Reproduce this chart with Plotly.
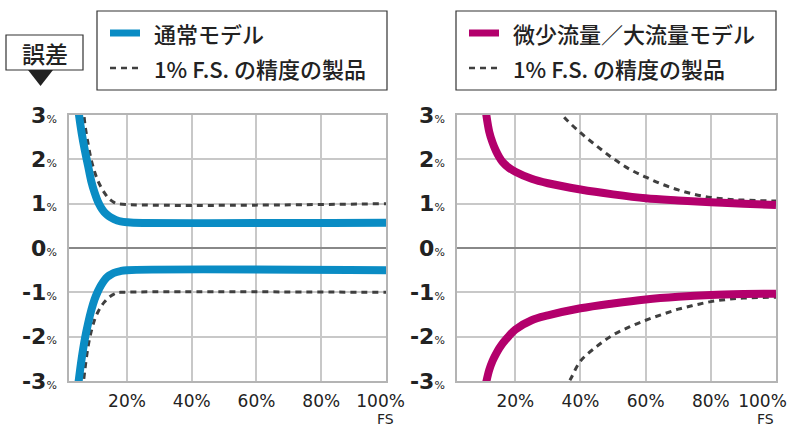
import plotly.graph_objects as go

W, H = 788, 427

# ---------------- data ----------------
# Left panel: 通常モデル
std_up_x = [5.0, 6, 7, 8, 9, 10, 11, 12, 13, 14, 15, 16, 17, 18, 20, 22, 100]
std_up_y = [3.1, 2.6, 2.2, 1.85, 1.5, 1.25, 1.05, 0.91, 0.81, 0.74, 0.69, 0.65, 0.62, 0.6, 0.58, 0.57, 0.57]
std_lo_x = [5.0, 6, 7, 8, 9, 10, 11, 12, 13, 14, 15, 16, 18, 20, 100]
std_lo_y = [-3.05, -2.5, -2.05, -1.7, -1.4, -1.16, -0.98, -0.84, -0.73, -0.65, -0.6, -0.56, -0.52, -0.5, -0.5]
fs_l_up_x = [6.5, 7, 8, 9, 10, 11, 12, 13, 14, 15, 16, 17, 100]
fs_l_up_y = [3.2, 2.8, 2.35, 1.98, 1.72, 1.52, 1.37, 1.25, 1.15, 1.08, 1.03, 1.0, 1.0]
fs_l_lo_x = [6.3, 7, 8, 9, 10, 11, 12, 13, 14, 15, 16, 17, 18, 100]
fs_l_lo_y = [-3.2, -2.75, -2.22, -1.87, -1.62, -1.45, -1.32, -1.22, -1.14, -1.08, -1.04, -1.01, -1.0, -1.0]

# Right panel: 微少流量／大流量モデル
mic_up_x = [11, 12, 13, 14, 15, 16, 18, 20, 25, 30, 40, 50, 60, 70, 80, 90, 100]
mic_up_y = [3.05, 2.62, 2.38, 2.2, 2.06, 1.95, 1.81, 1.72, 1.56, 1.46, 1.32, 1.21, 1.12, 1.07, 1.03, 1.0, 0.97]
mic_lo_x = [11, 12, 13, 14, 15, 16, 17, 18, 20, 25, 30, 40, 50, 60, 70, 80, 90, 100]
mic_lo_y = [-3.05, -2.75, -2.55, -2.4, -2.27, -2.16, -2.07, -1.99, -1.84, -1.63, -1.52, -1.36, -1.25, -1.16, -1.1, -1.06, -1.04, -1.03]
fs_r_up_x = [33, 35, 40, 45, 50, 55, 60, 65, 70, 75, 80, 85, 90, 100]
fs_r_up_y = [3.15, 2.95, 2.6, 2.3, 2.02, 1.78, 1.6, 1.44, 1.31, 1.21, 1.14, 1.1, 1.08, 1.06]
fs_r_lo_x = [35, 37, 40, 45, 50, 55, 60, 65, 70, 75, 80, 85, 90, 100]
fs_r_lo_y = [-3.2, -2.95, -2.55, -2.22, -1.96, -1.78, -1.63, -1.5, -1.38, -1.29, -1.21, -1.16, -1.13, -1.11]

x_ticks = [20, 40, 60, 80, 100]
x_ticklabels = ["20%", "40%", "60%", "80%", "100%"]
y_ticks = [3, 2, 1, 0, -1, -2, -3]

legend_left = ["通常モデル", "1% F.S. の精度の製品"]
legend_right = ["微少流量／大流量モデル", "1% F.S. の精度の製品"]
y_title = "誤差"
x_unit = "FS"

# ---------------- styles ----------------
BLUE = "#0a8cc4"
MAG = "#b3006c"
DASH = "#3f3f3f"
GRID = "#c8c8c8"
NFONT = "DejaVu Sans, sans-serif"
JFONT = "Noto Sans CJK JP, sans-serif"
DASHPAT = "6px,5px"
NB = "\u00a0"


def px(x):
    return x / W


def py(y):
    return 1 - y / H


fig = go.Figure()

def add_line(x, y, color, width, dash, xa, ya):
    fig.add_trace(go.Scatter(x=x, y=y, mode="lines", xaxis=xa, yaxis=ya,
                             line=dict(color=color, width=width, dash=dash, shape="spline", smoothing=1.0),
                             showlegend=False, hoverinfo="skip"))

add_line(fs_l_up_x, fs_l_up_y, DASH, 3, DASHPAT, "x", "y")
add_line(fs_l_lo_x, fs_l_lo_y, DASH, 3, DASHPAT, "x", "y")
add_line(std_up_x, std_up_y, BLUE, 8, "solid", "x", "y")
add_line(std_lo_x, std_lo_y, BLUE, 8, "solid", "x", "y")
add_line(fs_r_up_x, fs_r_up_y, DASH, 3, DASHPAT, "x2", "y2")
add_line(fs_r_lo_x, fs_r_lo_y, DASH, 3, DASHPAT, "x2", "y2")
add_line(mic_up_x, mic_up_y, MAG, 8, "solid", "x2", "y2")
add_line(mic_lo_x, mic_lo_y, MAG, 8, "solid", "x2", "y2")

y_text = [f"<b>{v}</b><span style='font-size:11px'>%</span>" for v in y_ticks]

# last label is nudged left (as in the original) so it stays inside the figure
x_text_left = x_ticklabels[:-1] + [x_ticklabels[-1] + NB * 2]
x_text_right = x_ticklabels[:-1] + [x_ticklabels[-1] + NB * 5]

xaxis_common = dict(range=[2.1, 100], tickvals=x_ticks,
                    showgrid=True, gridcolor=GRID, gridwidth=1.5, zeroline=False,
                    showline=True, mirror=True, linecolor="#b4b4b4", linewidth=1.5,
                    ticks="", ticklabelstandoff=4, automargin=False, ticklabeloverflow="allow",
                    tickfont=dict(family=NFONT, size=17, color="#222"))
yaxis_common = dict(range=[-3, 3], tickvals=y_ticks, ticktext=y_text,
                    showgrid=True, gridcolor=GRID, gridwidth=1.5,
                    zeroline=True, zerolinecolor="#888888", zerolinewidth=2,
                    showline=True, mirror=True, linecolor="#b4b4b4", linewidth=1.5,
                    ticks="", ticklabelstandoff=6, automargin=False, ticklabeloverflow="allow",
                    tickfont=dict(family=NFONT, size=22, color="#222"))

ydom = [py(381), py(115)]
fig.update_layout(
    width=W, height=H, margin=dict(l=0, r=0, t=0, b=0, autoexpand=False),
    paper_bgcolor="white", plot_bgcolor="white", showlegend=False,
    xaxis=dict(domain=[px(69), px(386)], anchor="y", ticktext=x_text_left, **xaxis_common),
    yaxis=dict(domain=ydom, anchor="x", **yaxis_common),
    xaxis2=dict(domain=[px(457), px(776)], anchor="y2", ticktext=x_text_right, **xaxis_common),
    yaxis2=dict(domain=ydom, anchor="x2", **yaxis_common),
)

shapes = []
annots = []

def legend_box(x0, x1, color, texts):
    shapes.append(dict(type="rect", xref="paper", yref="paper",
                       x0=px(x0), x1=px(x1), y0=py(90), y1=py(11),
                       line=dict(color="#333", width=1.2), fillcolor="white"))
    lx0 = x0 + 13
    lx1 = lx0 + 30
    shapes.append(dict(type="line", xref="paper", yref="paper",
                       x0=px(lx0), x1=px(lx1), y0=py(33), y1=py(33),
                       line=dict(color=color, width=7)))
    shapes.append(dict(type="line", xref="paper", yref="paper",
                       x0=px(lx0), x1=px(lx1), y0=py(68), y1=py(68),
                       line=dict(color=DASH, width=2.5, dash="6px,5px")))
    annots.append(dict(xref="paper", yref="paper", x=px(lx1 + 12), y=py(33),
                       text=texts[0], showarrow=False, xanchor="left", yanchor="middle",
                       font=dict(family=JFONT, size=22, color="#222", weight=500)))
    annots.append(dict(xref="paper", yref="paper", x=px(lx1 + 12), y=py(68),
                       text=texts[1], showarrow=False, xanchor="left", yanchor="middle",
                       font=dict(family=JFONT, size=22, color="#222", weight=500)))

legend_box(97, 387, BLUE, legend_left)
legend_box(456, 776, MAG, legend_right)

# 誤差 label box with arrow
shapes.append(dict(type="rect", xref="paper", yref="paper",
                   x0=px(6), x1=px(83), y0=py(70), y1=py(35),
                   line=dict(color="#333", width=1.2), fillcolor="white"))
shapes.append(dict(type="path", xref="paper", yref="paper",
                   path=f"M {px(28)},{py(70)} L {px(53)},{py(70)} L {px(40.5)},{py(86)} Z",
                   fillcolor="#222", line=dict(width=0)))
annots.append(dict(xref="paper", yref="paper", x=px(44.5), y=py(52.5), text=y_title,
                   showarrow=False, xanchor="center", yanchor="middle",
                   font=dict(family=JFONT, size=23, color="#222", weight=500)))

for xr in [385, 765]:
    annots.append(dict(xref="paper", yref="paper", x=px(xr), y=py(419), text=x_unit,
                       showarrow=False, xanchor="center", yanchor="middle",
                       font=dict(family=NFONT, size=14, color="#222")))

fig.update_layout(shapes=shapes, annotations=annots)
fig.write_html("out.html", config={"displayModeBar": False},
               post_script="document.body.style.margin='0';document.body.style.overflow='hidden';")
